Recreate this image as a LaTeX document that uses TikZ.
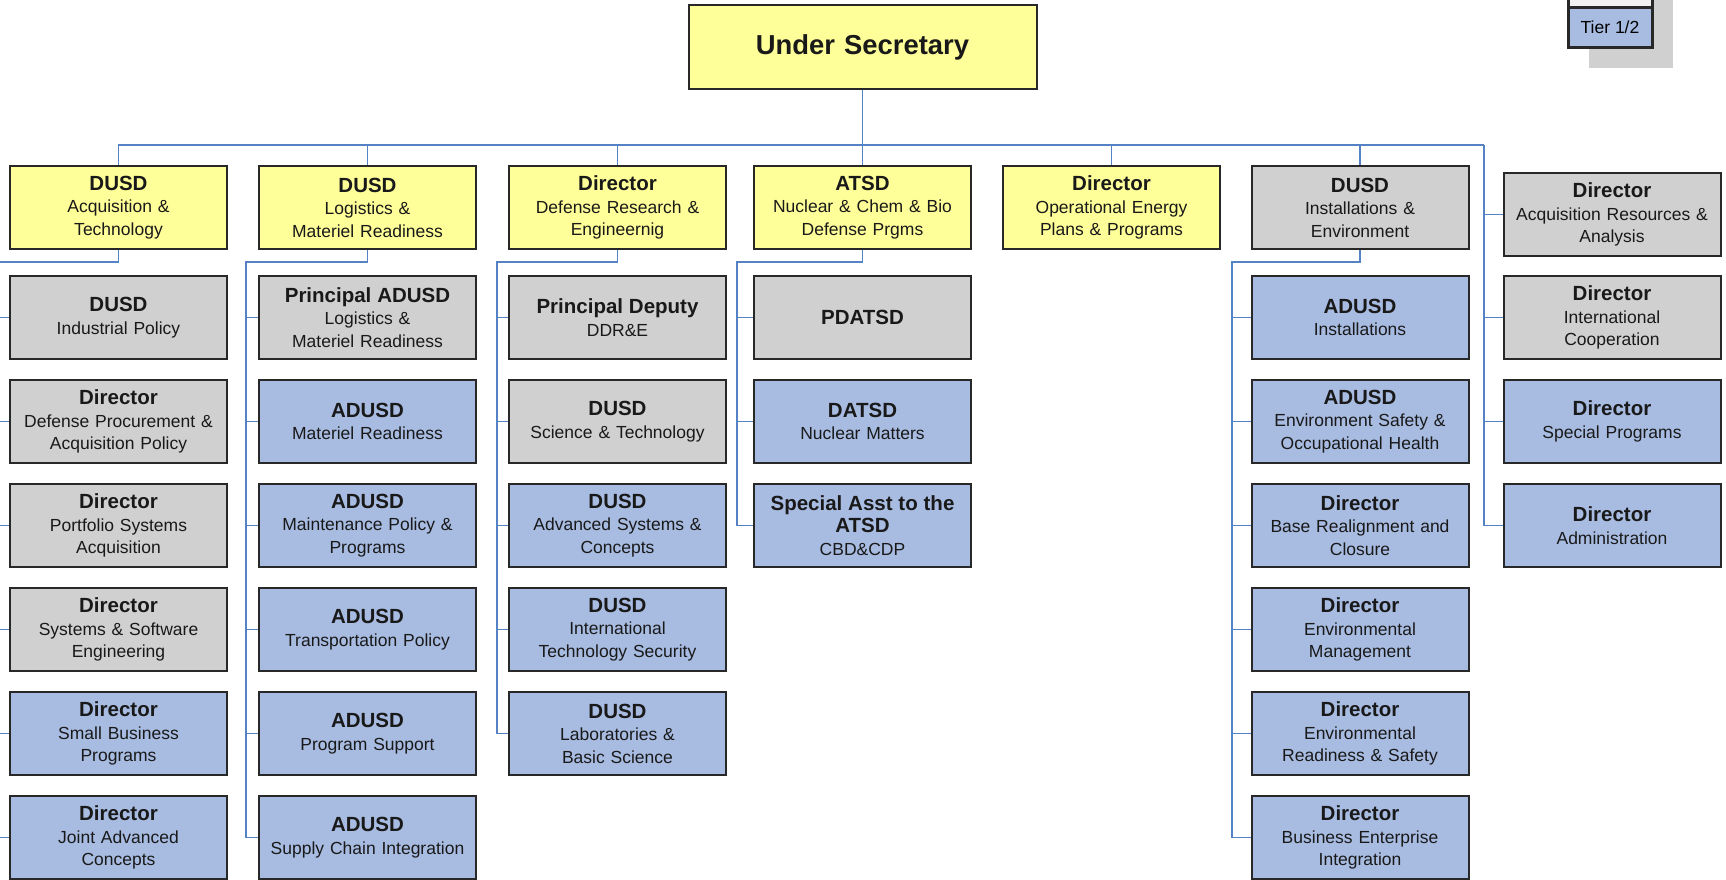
\documentclass[tikz,border=0pt]{standalone}
\usepackage{fontspec}
\setmainfont{Liberation Sans}
\usepackage{tikz}

\definecolor{leadfill}{RGB}{255,255,153}
\definecolor{stafffill}{RGB}{208,208,208}
\definecolor{officefill}{RGB}{168,188,226}
\definecolor{linkblue}{RGB}{84,130,196}
\definecolor{boxline}{RGB}{40,40,40}
\newcommand{\officetitle}[1]{{\fontsize{20.5}{22.5}\selectfont\bfseries #1}}

\begin{document}
\begin{tikzpicture}[x=1pt, y=-1pt,
    unit/.style={draw=boxline, line width=2pt, inner xsep=2pt, inner ysep=0pt, text width=213pt,
      minimum height=83pt, align=center, text=black!90, font=\fontsize{17.5}{22.5}\selectfont},
    lead/.style={unit, fill=leadfill},
    staff/.style={unit, fill=stafffill},
    office/.style={unit, fill=officefill},
    link/.style={draw=linkblue, line width=1.6pt}]
    \useasboundingbox (0,0) rectangle (1726,879);
    % Legende
    \fill[stafffill] (1589,-20) rectangle (1673,68);
    \node[draw=boxline, line width=3pt, fill=gray!12, minimum width=84pt, minimum height=40pt, inner sep=0pt] at (1610,-13) (tierup) {};
    \node[draw=boxline, line width=3pt, fill=officefill, minimum width=84pt, minimum height=40pt, inner sep=0pt,
      font=\fontsize{17.5}{20}\selectfont] at (1610,27) (tier) {Tier 1/2};
    % Postes
    \node[lead, text width=344pt, minimum height=84pt, font=\fontsize{27.4}{30}\selectfont\bfseries] at (862.5,47) (us) {Under Secretary};
    \node[lead] at (118.5,207.5) (dusdat) {\officetitle{DUSD}\\Acquisition \&\\Technology};
    \node[staff] at (118.5,317.5) (ip) {\officetitle{DUSD}\\Industrial Policy};
    \node[staff] at (118.5,421.5) (dpap) {\officetitle{Director}\\Defense Procurement \&\\Acquisition Policy};
    \node[staff] at (118.5,525.5) (psa) {\officetitle{Director}\\Portfolio Systems\\Acquisition};
    \node[staff] at (118.5,629.5) (sse) {\officetitle{Director}\\Systems \& Software\\Engineering};
    \node[office] at (118.5,733.5) (sbp) {\officetitle{Director}\\Small Business\\Programs};
    \node[office] at (118.5,837.5) (jac) {\officetitle{Director}\\Joint Advanced\\Concepts};
    \node[lead] at (367.5,207.5) (dusdlmr) {\officetitle{DUSD}\\Logistics \&\\Materiel Readiness};
    \node[staff] at (367.5,317.5) (padusd) {\officetitle{Principal ADUSD}\\Logistics \&\\Materiel Readiness};
    \node[office] at (367.5,421.5) (mr) {\officetitle{ADUSD}\\Materiel Readiness};
    \node[office] at (367.5,525.5) (mpp) {\officetitle{ADUSD}\\Maintenance Policy \&\\Programs};
    \node[office] at (367.5,629.5) (tp) {\officetitle{ADUSD}\\Transportation Policy};
    \node[office] at (367.5,733.5) (ps) {\officetitle{ADUSD}\\Program Support};
    \node[office] at (367.5,837.5) (sci) {\officetitle{ADUSD}\\Supply Chain Integration};
    \node[lead] at (617.5,207.5) (ddre) {\officetitle{Director}\\Defense Research \&\\Engineernig};
    \node[staff] at (617.5,317.5) (pd) {\officetitle{Principal Deputy}\\DDR\&E};
    \node[staff] at (617.5,421.5) (st) {\officetitle{DUSD}\\Science \& Technology};
    \node[office] at (617.5,525.5) (asc) {\officetitle{DUSD}\\Advanced Systems \&\\Concepts};
    \node[office] at (617.5,629.5) (its) {\officetitle{DUSD}\\International\\Technology Security};
    \node[office] at (617.5,733.5) (lbs) {\officetitle{DUSD}\\Laboratories \&\\Basic Science};
    \node[lead] at (862.5,207.5) (atsd) {\officetitle{ATSD}\\Nuclear \& Chem \& Bio\\Defense Prgms};
    \node[staff] at (862.5,317.5) (pdatsd) {\officetitle{PDATSD}};
    \node[office] at (862.5,421.5) (datsd) {\officetitle{DATSD}\\Nuclear Matters};
    \node[office] at (862.5,525.5) (sa) {\officetitle{Special Asst to the}\\\officetitle{ATSD}\\CBD\&CDP};
    \node[lead] at (1111.5,207.5) (oe) {\officetitle{Director}\\Operational Energy\\Plans \& Programs};
    \node[staff] at (1360,207.5) (dusdie) {\officetitle{DUSD}\\Installations \&\\Environment};
    \node[office] at (1360,317.5) (inst) {\officetitle{ADUSD}\\Installations};
    \node[office] at (1360,421.5) (esoh) {\officetitle{ADUSD}\\Environment Safety \&\\Occupational Health};
    \node[office] at (1360,525.5) (brac) {\officetitle{Director}\\Base Realignment and\\Closure};
    \node[office] at (1360,629.5) (em) {\officetitle{Director}\\Environmental\\Management};
    \node[office] at (1360,733.5) (ers) {\officetitle{Director}\\Environmental\\Readiness \& Safety};
    \node[office] at (1360,837.5) (bei) {\officetitle{Director}\\Business Enterprise\\Integration};
    \node[staff] at (1612,214.5) (ara) {\officetitle{Director}\\Acquisition Resources \&\\Analysis};
    \node[staff] at (1612,317.5) (ic) {\officetitle{Director}\\International\\Cooperation};
    \node[office] at (1612,421.5) (sp) {\officetitle{Director}\\Special Programs};
    \node[office] at (1612,525.5) (adm) {\officetitle{Director}\\Administration};
    % Liens
    \coordinate (bus) at (862.5,145);
    \coordinate (rspine) at (1484,145);
    \coordinate (s1) at (-3,262);
    \coordinate (s2) at (246,262);
    \coordinate (s3) at (497,262);
    \coordinate (s4) at (737,262);
    \coordinate (s6) at (1232,262);
    \foreach \n in {dusdat,dusdlmr,ddre,atsd,oe,dusdie}
      \draw[link] (us.south) -- (bus) -| (\n.north);
    \draw[link] (bus) -- (rspine);
    \foreach \n in {ara,ic,sp,adm}
      \draw[link] (rspine) |- (\n.west);
    \foreach \n in {ip,dpap,psa,sse,sbp,jac}
      \draw[link] (dusdat.south) |- (s1) |- (\n.west);
    \foreach \n in {padusd,mr,mpp,tp,ps,sci}
      \draw[link] (dusdlmr.south) |- (s2) |- (\n.west);
    \foreach \n in {pd,st,asc,its,lbs}
      \draw[link] (ddre.south) |- (s3) |- (\n.west);
    \foreach \n in {pdatsd,datsd,sa}
      \draw[link] (atsd.south) |- (s4) |- (\n.west);
    \foreach \n in {inst,esoh,brac,em,ers,bei}
      \draw[link] (dusdie.south) |- (s6) |- (\n.west);
  \end{tikzpicture}
\end{document}
